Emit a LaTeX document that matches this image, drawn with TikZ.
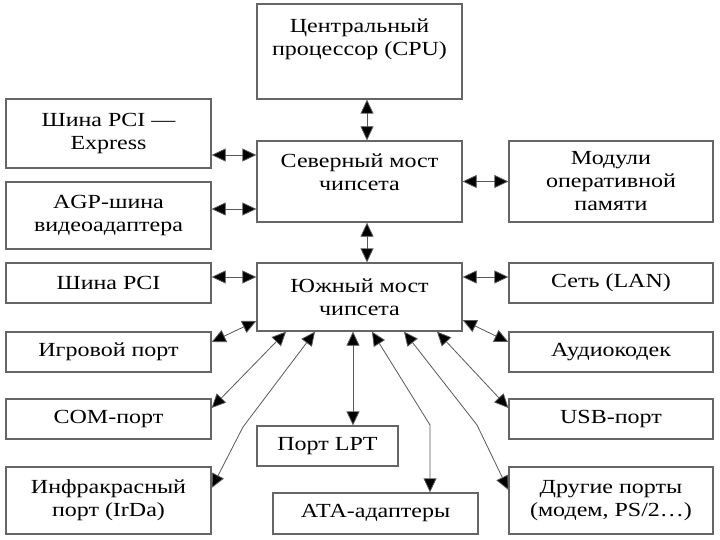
\documentclass[tikz,border=0pt]{standalone}
\usepackage{fontspec}
\setmainfont{Liberation Serif}[FakeStretch=1.2]
\usetikzlibrary{arrows.meta}
\begin{document}
\begin{tikzpicture}[x=1pt,y=-1pt,
  box/.style={draw=black!60, line width=1.3pt, rectangle, align=center, inner sep=2pt,
    font=\fontsize{20}{23}\selectfont, minimum width=205pt},
  arr/.style={draw=black!65, line width=0.8pt,
    {Triangle[length=14pt,width=13pt,fill=black]}-{Triangle[length=14pt,width=13pt,fill=black]}}
]
\useasboundingbox (0,0) rectangle (720,540);
\fill[white] (0,0) rectangle (720,540);

\node[box, minimum height=95pt] (cpu) at (359.5,51.5) {Центральный\\процессор (CPU)\\[6pt]\mbox{}};
\node[box, minimum height=69pt] (pcie) at (108.5,133.5) {Шина PCI —\\Express};
\node[box, minimum height=81pt] (nb) at (359.5,181.5) {Северный мост\\чипсета\\[-5pt]\mbox{}};
\node[box, minimum height=81pt, minimum width=204pt] (mem) at (611,181.5) {Модули\\оперативной\\памяти};
\node[box, minimum height=67pt] (agp) at (108.5,215.5) {AGP-шина\\видеоадаптера};
\node[box, minimum height=40pt] (pci) at (108.5,283) {Шина PCI};
\node[box, minimum height=68pt] (sb) at (359.5,297) {Южный мост\\чипсета};
\node[box, minimum height=40pt, minimum width=204pt] (lan) at (611,283) {Сеть (LAN)};
\node[box, minimum height=40pt] (game) at (108.5,352) {Игровой порт};
\node[box, minimum height=40pt, minimum width=204pt] (audio) at (611,352) {Аудиокодек};
\node[box, minimum height=40pt] (com) at (108.5,419) {COM-порт};
\node[box, minimum height=40pt, minimum width=204pt] (usb) at (611,419) {USB-порт};
\node[box, minimum height=40pt, minimum width=141pt] (lpt) at (327.5,446) {Порт LPT};
\node[box, minimum height=67pt] (irda) at (108.5,500.5) {Инфракрасный\\порт (IrDa)};
\node[box, minimum height=41pt] (ata) at (375.5,513.5) {АТА-адаптеры};
\node[box, minimum height=67pt, minimum width=204pt] (other) at (611,500.5) {Другие порты\\(модем, PS/2…)};

\coordinate (irdabend) at (243,427);
\coordinate (atabend) at (430,425);
\coordinate (othbend) at (477,425);

\draw[arr] ([xshift=7.5pt]cpu.south) -- ([xshift=7.5pt]nb.north);
\draw[arr] ([yshift=-21.5pt]pcie.east) -- ([yshift=26.5pt]nb.west);
\draw[arr] ([yshift=6.5pt]agp.east) -- ([yshift=-27.5pt]nb.west);
\draw[arr] (nb.east) -- (mem.west);
\draw[arr] ([xshift=7.5pt]nb.south) -- ([xshift=7.5pt]sb.north);
\draw[arr] ([yshift=6pt]pci.east) -- ([yshift=20pt]sb.west);
\draw[arr] ([yshift=20pt]sb.east) -- ([yshift=6pt]lan.west);
\draw[arr] ([yshift=-24pt]sb.west) -- ([yshift=10pt]game.east);
\draw[arr] ([yshift=-23pt]sb.east) -- ([yshift=10pt]audio.west);
\draw[arr] ([xshift=-73.5pt]sb.south) -- ([yshift=11pt]com.east);
\draw[arr] ([xshift=77.5pt]sb.south) -- ([yshift=11pt]usb.west);
\draw[arr] ([xshift=-44.5pt]sb.south) -- (irdabend) -- ([yshift=12.5pt]irda.east);
\draw[arr] ([xshift=-6.5pt]sb.south) -- ([xshift=25.5pt]lpt.north);
\draw[arr] ([xshift=12.5pt]sb.south) -- (atabend) -- ([xshift=54.5pt]ata.north);
\draw[arr] ([xshift=44.5pt]sb.south) -- (othbend) -- ([yshift=10.5pt]other.west);
\end{tikzpicture}
\end{document}
